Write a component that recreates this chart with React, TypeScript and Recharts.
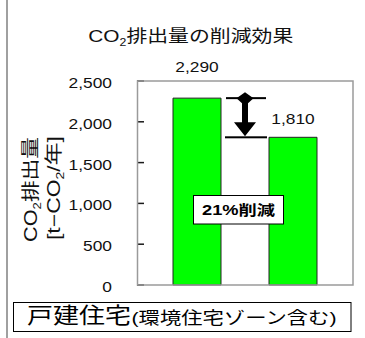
import React from 'react';
import { BarChart, Bar, XAxis, YAxis, LabelList, ReferenceArea } from 'recharts';

// Annual CO2 emissions, before and after the reduction measures
const categories = ['現状', '削減後'];
const emissions = [2290, 1810];
const yTicks = [0, 500, 1000, 1500, 2000, 2500];

const data = categories.map((name, i) => ({ name, value: emissions[i] }));

const W = 365;
const H = 338;
const MARGIN = { top: 81, right: 12, bottom: 53, left: 0 };
const Y_AXIS_WIDTH = 137;
const PLOT_LEFT = MARGIN.left + Y_AXIS_WIDTH;
const PLOT_W = W - PLOT_LEFT - MARGIN.right;
const PLOT_H = H - MARGIN.top - MARGIN.bottom;
const SX = 1.24; // horizontal glyph stretch used for all labels
const FONT = '"Liberation Sans", Arial, "Noto Sans CJK JP", sans-serif';
const FRAME = '#9a9a9a';

const fmt = (v: number) => v.toLocaleString('en-US');
const reductionPct = Math.round((1 - emissions[1] / emissions[0]) * 100);

// Inward tick mark plus stretched value label
function YTick(props: any) {
  const { y, payload } = props;
  return (
    <g>
      <rect x={PLOT_LEFT} y={y - 0.75} width={7} height={1.5} fill="#1a1a1a" />
      <g transform={`translate(${PLOT_LEFT - 25},${y + 7}) scale(${SX},1)`}>
        <text textAnchor="end" fontSize={14} fill="#111" fontFamily={FONT}>
          {fmt(payload.value)}
        </text>
      </g>
    </g>
  );
}

function ValueLabel(props: any) {
  const vb = props.viewBox || {};
  const x = vb.x ?? props.x;
  const y = vb.y ?? props.y;
  const width = vb.width ?? props.width;
  const lift = props.index === 0 ? 26 : 13;
  return (
    <g transform={`translate(${x + width / 2},${y - lift}) scale(${SX},1)`}>
      <text textAnchor="middle" fontSize={14} fill="#111" fontFamily={FONT}>
        {fmt(props.value)}
      </text>
    </g>
  );
}

// Double arrow spanning the gap between the two bar heights
function ReductionArrow(props: any) {
  const { x, y, width, height } = props;
  const cx = x + width / 2;
  const yT = y;
  const yB = y + height;
  const pts = [
    [cx, yT - 6],
    [cx + 8.5, yT],
    [cx + 3, yT + 5],
    [cx + 3, yB - 15],
    [cx + 11, yB - 15],
    [cx, yB - 1],
    [cx - 11, yB - 15],
    [cx - 3, yB - 15],
    [cx - 3, yT + 5],
    [cx - 8.5, yT],
  ]
    .map((p) => p.join(','))
    .join(' ');
  return (
    <g>
      <rect x={cx - 19} y={yT - 1} width={40} height={2} fill="#000" />
      <rect x={cx - 20} y={yB - 1} width={42} height={2} fill="#000" />
      <polygon points={pts} fill="#000" />
    </g>
  );
}

export default function App() {
  return (
    <div style={{ position: 'absolute', left: 0, top: 0, width: W, height: H, background: '#fff' }}>
      <BarChart width={W} height={H} data={data} margin={MARGIN} barSize={48}>
        <XAxis dataKey="name" hide padding={{ left: 12, right: 12 }} />
        <YAxis
          width={Y_AXIS_WIDTH}
          domain={[0, 2500]}
          ticks={yTicks}
          interval={0}
          tick={<YTick />}
          tickLine={false}
          axisLine={false}
        />
        <Bar dataKey="value" fill="#00ff00" stroke="#222" strokeWidth={1} isAnimationActive={false}>
          <LabelList dataKey="value" content={<ValueLabel />} />
        </Bar>
        <ReferenceArea
          y1={emissions[1]}
          y2={emissions[0]}
          ifOverflow="visible"
          shape={(p: any) => <ReductionArrow {...p} />}
        />
      </BarChart>

      <svg
        width={W}
        height={H}
        style={{ position: 'absolute', left: 0, top: 0, pointerEvents: 'none' }}
        fontFamily={FONT}
      >
        <line x1={7} x2={7} y1={0} y2={H} stroke="#a0a0a0" strokeWidth={2} />

        {/* plot frame */}
        <rect x={PLOT_LEFT + 0.5} y={MARGIN.top} width={PLOT_W - 0.5} height={PLOT_H} fill="none" stroke={FRAME} strokeWidth={1.5} />

        {/* reduction badge */}
        <rect x={193.5} y={195.5} width={90} height={28.5} fill="#fff" stroke="#000" strokeWidth={1} />
        <text
          x={238.5}
          y={215}
          textAnchor="middle"
          fontSize={14}
          fontWeight="bold"
          fill="#000"
          textLength={73}
          lengthAdjust="spacingAndGlyphs"
        >
          {`${reductionPct}%削減`}
        </text>

        <text x={190.8} y={41.5} textAnchor="middle" fontSize={17} fill="#111" textLength={205} lengthAdjust="spacingAndGlyphs">
          CO<tspan fontSize={10} dy={4}>2</tspan>
          <tspan dy={-4}>排出量の削減効果</tspan>
        </text>

        <text
          transform="translate(36.5,189.5) rotate(-90)"
          textAnchor="middle"
          fontSize={18}
          fill="#111"
          textLength={105}
          lengthAdjust="spacingAndGlyphs"
        >
          CO<tspan fontSize={11} dy={4}>2</tspan>
          <tspan dy={-4}>排出量</tspan>
        </text>
        <text
          transform="translate(60,188) rotate(-90)"
          textAnchor="middle"
          fontSize={18}
          fill="#111"
          textLength={104}
          lengthAdjust="spacingAndGlyphs"
        >
          [t−CO<tspan fontSize={11} dy={4}>2</tspan>
          <tspan dy={-4}>/年]</tspan>
        </text>

        <rect x={13.5} y={302.5} width={337.5} height={29} fill="#fff" stroke="#000" strokeWidth={1} />
        <text x={27} y={323} fontSize={22} fill="#000" textLength={104} lengthAdjust="spacingAndGlyphs">
          戸建住宅
        </text>
        <text x={131.5} y={323.5} fontSize={17} fill="#000" textLength={205} lengthAdjust="spacingAndGlyphs">
          (環境住宅ゾーン含む)
        </text>
      </svg>
    </div>
  );
}
